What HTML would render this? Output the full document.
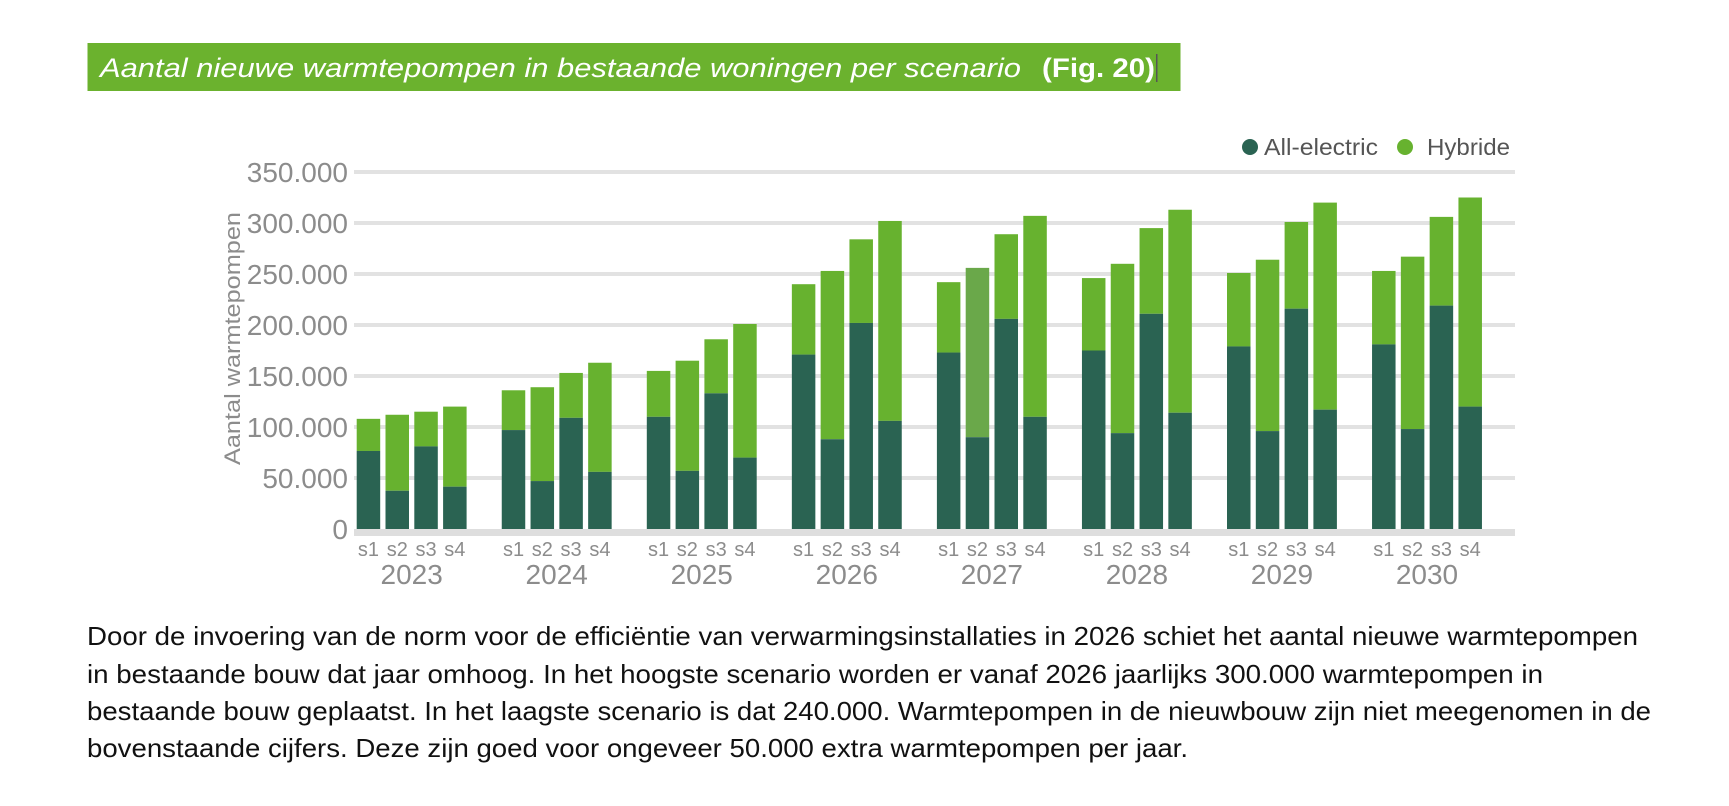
<!DOCTYPE html>
<html><head><meta charset="utf-8">
<style>
html,body{margin:0;padding:0;background:#fff;width:1729px;height:806px;overflow:hidden}
svg{display:block}
text{font-family:"Liberation Sans",sans-serif}
</style></head>
<body>
<svg id="chart" width="1729" height="806" viewBox="0 0 1729 806">
  <rect x="87.5" y="43" width="1093" height="48" fill="#6bb22e"/>
  <text x="100" y="77" font-size="27" font-style="italic" fill="#fff" textLength="921" lengthAdjust="spacingAndGlyphs">Aantal nieuwe warmtepompen in bestaande woningen per scenario</text>
  <text x="1042" y="77" font-size="27" font-weight="bold" fill="#fff" textLength="113" lengthAdjust="spacingAndGlyphs">(Fig. 20)</text>
  <rect x="1156" y="54" width="1.5" height="28" fill="#555"/>

  <g id="grid"></g>
  <g id="bars"></g>
  <g id="labels"></g>

  <text transform="translate(240,338.5) rotate(-90)" text-anchor="middle" font-size="22" fill="#8c8c8c" textLength="253" lengthAdjust="spacingAndGlyphs">Aantal warmtepompen</text>

  <g>
    <circle cx="1250" cy="147" r="8" fill="#2a6352"/>
    <text x="1264" y="155" font-size="23" fill="#555" textLength="114" lengthAdjust="spacingAndGlyphs">All-electric</text>
    <circle cx="1405" cy="147" r="8" fill="#67b22f"/>
    <text x="1427" y="155" font-size="23" fill="#555" textLength="83" lengthAdjust="spacingAndGlyphs">Hybride</text>
  </g>

  <g font-size="26" fill="#111">
    <text x="87" y="645" textLength="1551" lengthAdjust="spacingAndGlyphs">Door de invoering van de norm voor de efficiëntie van verwarmingsinstallaties in 2026 schiet het aantal nieuwe warmtepompen</text>
    <text x="87" y="683" textLength="1456" lengthAdjust="spacingAndGlyphs">in bestaande bouw dat jaar omhoog. In het hoogste scenario worden er vanaf 2026 jaarlijks 300.000 warmtepompen in</text>
    <text x="87" y="720" textLength="1564" lengthAdjust="spacingAndGlyphs">bestaande bouw geplaatst. In het laagste scenario is dat 240.000. Warmtepompen in de nieuwbouw zijn niet meegenomen in de</text>
    <text x="87" y="757" textLength="1101" lengthAdjust="spacingAndGlyphs">bovenstaande cijfers. Deze zijn goed voor ongeveer 50.000 extra warmtepompen per jaar.</text>
  </g>
</svg>
<script>
const years = ["2023","2024","2025","2026","2027","2028","2029","2030"];
const scenarios = ["s1","s2","s3","s4"];
const allElectric = [
  [76.5,37.5,81,41.5],[97,47,109,56],[110,57,133,70],[171,88,202,106],
  [173,90,206,110],[175,94,211,114],[179,96,216,117],[181,98,219,120]
];
const totals = [
  [108,112,115,120],[136,139,153,163],[155,165,186,201],[240,253,284,302],
  [242,256,289,307],[246,260,295,313],[251,264,301,320],[253,267,306,325]
];
const yTicks = [0,50,100,150,200,250,300,350];
const yTickLabels = ["0","50.000","100.000","150.000","200.000","250.000","300.000","350.000"];

const NS = "http://www.w3.org/2000/svg";
const baseY = 529, pxPerK = 51/50;
const plotL = 354, plotR = 1515;
function y(v){ return baseY - v*pxPerK; }
function groupX(g){ return 356.7 + g*145.05; }
function barX(g,s){ return groupX(g) + s*28.8; }
const BW = 23.5;
function mk(tag, attrs, parent){
  const el = document.createElementNS(NS, tag);
  for (const k in attrs) el.setAttribute(k, attrs[k]);
  parent.appendChild(el);
  return el;
}
const grid = document.getElementById('grid');
const bars = document.getElementById('bars');
const labels = document.getElementById('labels');

yTicks.forEach((t,i)=>{
  if (t>0){
    const ln = mk('rect',{x:plotL,y:y(t)-2,width:plotR-plotL,height:4,fill:'#e2e2e2'},grid);
    
    
  }
  const tx = mk('text',{x:348,y:y(t)+10,'text-anchor':'end','font-size':28,fill:'#8c8c8c'},labels);
  tx.textContent = yTickLabels[i];
  
  
});
const base = mk('rect',{x:plotL,y:baseY,width:plotR-plotL,height:7,fill:'#dedede'},grid);



years.forEach((yr,g)=>{
  scenarios.forEach((sc,s)=>{
    const ae = allElectric[g][s], tot = totals[g][s];
    const hyb = mk('rect',{x:barX(g,s),y:y(tot),width:BW,height:y(ae)-y(tot),fill:(g===4&&s===1)?'#6aa84a':'#67b22f'},bars);
    
    
    const el = mk('rect',{x:barX(g,s),y:y(ae),width:BW,height:baseY-y(ae),fill:'#2a6352'},bars);
    
    
    const sl = mk('text',{x:barX(g,s)+BW/2,y:556,'text-anchor':'middle','font-size':20,fill:'#8c8c8c'},labels);
    sl.textContent = sc;
    
    
  });
  const yl = mk('text',{x:groupX(g)+(3*28.8+BW)/2,y:584,'text-anchor':'middle','font-size':28,fill:'#8c8c8c'},labels);
  yl.textContent = yr;
  
  
});
</script>
</body></html>
